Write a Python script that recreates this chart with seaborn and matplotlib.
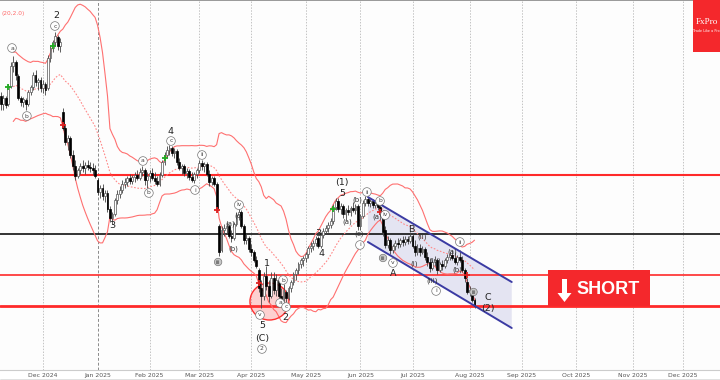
import numpy as np
import pandas as pd
import matplotlib
matplotlib.use("Agg")
import matplotlib.pyplot as plt
from matplotlib.patches import Rectangle, Ellipse, FancyArrow, Polygon
from matplotlib.lines import Line2D
import seaborn as sns

# ---------------- data ----------------
# trading calendar (weekdays, market holidays removed)
calendar = pd.bdate_range("2024-11-01", "2025-12-31").drop(pd.to_datetime(["2025-01-01", "2025-01-20"]))
first_bar = "2024-11-07"

open_ = [284, 276, 282, 276, 294, 314, 318, 304, 282, 278,
         280, 276, 288, 293, 305, 298, 300, 292, 296, 292,
         322, 332, 338, 343, 334, 268, 252, 238, 242, 225,
         214, 204, 210, 214, 212, 215, 213, 212, 210, 200,
         188, 192, 184, 187, 171, 162, 166, 180, 186, 190,
         196, 198, 202, 199, 203, 205, 202, 208, 210, 200,
         204, 207, 202, 199, 196, 205, 218, 225, 230, 232,
         227, 229, 218, 212, 214, 207, 209, 203, 200, 206,
         210, 217, 214, 216, 206, 198, 202, 196, 154, 130,
         150, 152, 154, 144, 142, 156, 165, 168, 154, 140,
         142, 131, 128, 120, 110, 92, 84, 104, 94, 84,
         102, 90, 100, 84, 80, 88, 82, 92, 98, 106,
         110, 116, 120, 122, 126, 132, 134, 137, 142, 134,
         145, 149, 152, 155, 159, 173, 179, 171, 174, 166,
         170, 168, 172, 170, 174, 154, 164, 177, 181, 177,
         179, 175, 177, 173, 168, 150, 135, 140, 130, 134,
         137, 136, 140, 138, 141, 139, 144, 134, 128, 132,
         128, 131, 123, 118, 112, 118, 120, 110, 116, 114,
         120, 123, 125, 122, 118, 123, 120, 110, 98, 88,
         88, 80]
high = [288, 285, 284, 296, 318, 324, 320, 306, 284, 283,
        282, 290, 295, 308, 310, 302, 303, 300, 298, 325,
        335, 340, 348, 345, 342, 272, 255, 245, 244, 230,
        220, 212, 217, 220, 218, 220, 218, 217, 215, 202,
        195, 196, 190, 190, 174, 168, 182, 190, 194, 200,
        202, 204, 206, 205, 208, 210, 212, 214, 212, 208,
        210, 212, 208, 204, 208, 220, 228, 234, 235, 234,
        232, 231, 222, 216, 216, 212, 211, 208, 208, 212,
        220, 220, 218, 218, 210, 204, 204, 198, 156, 154,
        156, 158, 156, 150, 158, 168, 172, 170, 156, 146,
        144, 136, 130, 124, 112, 100, 108, 114, 100, 108,
        108, 106, 102, 92, 96, 90, 94, 100, 108, 112,
        118, 122, 124, 128, 134, 138, 140, 144, 144, 148,
        152, 155, 158, 162, 176, 182, 182, 177, 176, 172,
        175, 174, 178, 176, 176, 166, 180, 184, 183, 181,
        181, 180, 180, 175, 170, 154, 144, 142, 136, 140,
        142, 142, 144, 144, 144, 148, 146, 140, 136, 136,
        134, 133, 128, 122, 120, 124, 122, 118, 120, 122,
        126, 128, 130, 128, 125, 130, 124, 112, 102, 94,
        90, 82]
low = [270, 270, 272, 274, 292, 308, 300, 280, 274, 273,
       270, 274, 285, 290, 294, 290, 288, 287, 285, 290,
       318, 328, 334, 330, 328, 250, 235, 230, 222, 210,
       200, 202, 206, 208, 206, 210, 208, 205, 202, 185,
       182, 180, 178, 168, 158, 156, 164, 176, 182, 187,
       192, 194, 196, 196, 198, 200, 200, 204, 195, 192,
       198, 200, 196, 194, 194, 203, 215, 222, 225, 224,
       222, 215, 210, 206, 204, 202, 200, 198, 197, 202,
       207, 210, 208, 204, 194, 195, 194, 168, 124, 128,
       144, 146, 142, 138, 140, 154, 160, 152, 136, 136,
       128, 124, 118, 112, 88, 72, 80, 90, 78, 82,
       86, 84, 80, 74, 76, 78, 80, 88, 95, 100,
       106, 112, 114, 118, 122, 128, 130, 134, 132, 132,
       142, 146, 148, 152, 156, 170, 168, 166, 162, 160,
       165, 164, 168, 166, 150, 150, 162, 174, 174, 173,
       172, 172, 170, 166, 144, 132, 132, 126, 127, 130,
       132, 133, 134, 135, 136, 137, 132, 124, 125, 124,
       126, 120, 114, 108, 110, 114, 106, 108, 110, 112,
       117, 120, 120, 116, 115, 118, 108, 98, 86, 84,
       78, 72]
close = [276, 282, 275, 294, 314, 318, 305, 282, 278, 281,
         276, 288, 293, 305, 298, 300, 292, 296, 290, 322,
         332, 338, 344, 334, 338, 252, 238, 242, 225, 214,
         204, 210, 214, 212, 215, 213, 212, 210, 204, 188,
         192, 184, 187, 171, 162, 166, 180, 186, 190, 196,
         198, 202, 199, 203, 205, 202, 208, 210, 200, 204,
         207, 202, 199, 196, 205, 218, 225, 230, 232, 227,
         229, 218, 212, 214, 207, 209, 203, 200, 206, 210,
         217, 214, 216, 206, 198, 202, 196, 172, 128, 150,
         152, 154, 144, 142, 156, 165, 168, 154, 140, 142,
         131, 128, 120, 114, 92, 84, 104, 94, 84, 102,
         90, 100, 84, 80, 90, 82, 92, 98, 106, 110,
         116, 120, 122, 126, 132, 134, 137, 141, 134, 145,
         149, 152, 155, 159, 173, 179, 171, 174, 166, 170,
         168, 172, 170, 174, 154, 164, 177, 181, 177, 179,
         175, 177, 173, 168, 148, 135, 140, 130, 134, 137,
         136, 140, 138, 141, 139, 144, 134, 128, 132, 128,
         131, 123, 118, 112, 118, 120, 110, 116, 114, 120,
         123, 125, 122, 118, 123, 120, 110, 102, 88, 90,
         80, 74]

levels = [205, 146, 105, 74]
level_colors = ["#ff2a2a", "#111111", "#ff2a2a", "#ff2a2a"]
level_widths = [1.5, 1.2, 1.2, 2.0]

bb_period, bb_dev = 20, 2.0

# descending channel: anchor bars (calendar index) and prices
channel_bars = [152, 210]
channel_upper = [183, 98]
channel_lower = [138, 52]

# highlighted reversal zone (bar, price, width in bars, height in price)
zone = (112.3, 78.5, 15.7, 37)

# trade signal markers (calendar index, price)
buy_bars, buy_prices = [7, 25, 70, 138], [293, 334, 222, 171]
sell_bars, sell_prices = [29, 91, 108, 157, 192], [255, 170, 97, 168, 105]

# Elliott wave labels (calendar index, price, text)
big_labels = [(26.2, 365, "2"), (72.6, 249, "4"), (48.8, 155, "3"), (111.3, 117, "1"),
              (109.3, 55, "5"), (109.3, 42, "(C)"), (118.6, 62, "2"), (131.9, 147, "3"),
              (133.1, 127, "4"), (141.6, 187, "5"), (141.6, 198, "(1)"), (162.1, 107, "A"),
              (169.4, 151, "B"), (200.5, 83, "C"), (200.5, 72, "(2)")]
circ_labels = [(8.5, 332, "a"), (14.5, 264, "b"), (25.8, 354, "c"), (61.3, 219, "a"),
               (63.7, 187, "b"), (72.6, 239, "c"), (82.3, 190, "i"), (85.1, 225, "ii"),
               (100.0, 175, "iv"), (108.5, 65, "v"), (117.8, 100, "b"), (116.6, 77, "a"),
               (119.0, 73, "c"), (148.8, 135, "i"), (151.6, 188, "ii"), (156.9, 179, "b"),
               (158.9, 165, "iv"), (162.1, 117, "v"), (179.5, 89, "i"), (189.1, 138, "ii"),
               (109.3, 31, "2")]
filled_labels = [(91.6, 118, "iii"), (158.1, 122, "iii"), (194.6, 88, "iii")]
paren_labels = [(96.4, 156, "(a)"), (97.6, 131, "(b)"), (100.0, 164, "(c)"),
                (143.6, 158, "(a)"), (147.6, 180, "(b)"), (148.4, 146, "(c)"),
                (155.7, 163, "(a)"), (173.8, 143, "(ii)"), (170.6, 116, "(i)"),
                (179.0, 119, "(iv)"), (177.9, 99, "(iii)"), (185.9, 128, "(a)"),
                (187.9, 110, "(b)")]

# ---------------- figure ----------------
sns.set_style("white")
plt.rcParams["font.family"] = ["DejaVu Sans"]
fig = plt.figure(figsize=(7.2, 3.8), dpi=100)
AX_H = 370
ax = fig.add_axes([0, (380 - AX_H) / 380, 1, AX_H / 380])
ax.set_facecolor("#fdfdfd")

x0 = calendar.get_loc(pd.Timestamp(first_bar))
df = pd.DataFrame({"x": np.arange(x0, x0 + len(close)), "open": open_, "high": high,
                   "low": low, "close": close})
roll = df["close"].rolling(bb_period, min_periods=6)
df["mid"] = roll.mean()
sd = roll.std(ddof=0)
df["upper"] = df["mid"] + bb_dev * sd
df["lower"] = df["mid"] - bb_dev * sd

# month grid
months = pd.period_range("2024-12", "2025-12", freq="M")
tick_pos, tick_lab = [], []
for m in months:
    idx = np.where((calendar.year == m.year) & (calendar.month == m.month))[0][0]
    tick_pos.append(idx)
    tick_lab.append(m.strftime("%b %Y"))
    if m.month == 1:
        ax.axvline(idx, color="#8a8a8a", lw=0.7, ls=(0, (3, 2)), zorder=0)
    else:
        ax.axvline(idx, color="#c4c4c4", lw=0.7, ls=(0, (1.5, 1.5)), zorder=0)

# channel
cx = np.array(channel_bars)
ax.add_patch(Polygon(np.column_stack([np.r_[cx, cx[::-1]], np.r_[channel_upper, channel_lower[::-1]]]),
                     closed=True, fc="#e4e4f2", ec="none", zorder=1))
sns.lineplot(x=cx, y=channel_upper, ax=ax, color="#3b3ba3", lw=1.4, zorder=6)
sns.lineplot(x=cx, y=channel_lower, ax=ax, color="#3b3ba3", lw=1.4, zorder=6)

# levels
for lv, c, w in zip(levels, level_colors, level_widths):
    ax.axhline(lv, color=c, lw=w, zorder=2)

# Bollinger bands
sns.lineplot(data=df, x="x", y="upper", ax=ax, color="#ff7070", lw=0.8, zorder=2)
sns.lineplot(data=df, x="x", y="lower", ax=ax, color="#ff7070", lw=0.8, zorder=2)
sns.lineplot(data=df, x="x", y="mid", ax=ax, color="#ff8a8a", lw=0.8, ls=(0, (1.5, 1.5)), zorder=2)

# reversal zone
ax.add_patch(Ellipse(zone[:2], zone[2], zone[3], fc=(1, 0.3, 0.3, 0.25), ec="#ff3030", lw=1.0, zorder=3))

# candles
up = df["close"] >= df["open"]
ax.vlines(df["x"], df["low"], df["high"], color="#444444", lw=0.6, zorder=4)
ax.bar(df["x"][up], (df["close"] - df["open"])[up], bottom=df["open"][up], width=0.75,
       color="white", edgecolor="#555555", lw=0.5, zorder=5)
ax.bar(df["x"][~up], (df["open"] - df["close"])[~up], bottom=df["close"][~up], width=0.75,
       color="black", edgecolor="black", lw=0.5, zorder=5)

# signal markers
ax.plot(buy_bars, buy_prices, ls="none", marker="+", ms=4, mew=1.3, color="#22aa22", zorder=7)
ax.plot(sell_bars, sell_prices, ls="none", marker="+", ms=4, mew=1.3, color="#dd2222", zorder=7)

# axes cosmetics (after seaborn calls, which set their own labels)
ax.set_xlim(3.66, 293.98)
ax.set_ylim(380 - AX_H, 380)
ax.set_xlabel("")
ax.set_ylabel("")
ax.set_xticks(tick_pos)
ax.set_xticklabels(tick_lab)
ax.tick_params(axis="x", labelsize=4.4, colors="#555555", length=1.5, pad=0.6, width=0.5)
ax.set_yticks([])
for s in ["left", "right"]:
    ax.spines[s].set_visible(False)
ax.spines["top"].set_color("#888888")
ax.spines["top"].set_linewidth(1.2)
ax.spines["bottom"].set_color("#cccccc")
ax.spines["bottom"].set_linewidth(0.8)
fig.add_artist(Line2D([0, 1], [0.5 / 380, 0.5 / 380], color="#666666", lw=1.0))

# wave labels
for x, y, t in big_labels:
    ax.text(x, y, t, fontsize=6.8, color="#222222", ha="center", va="center", zorder=8)
for x, y, t in circ_labels:
    ax.text(x, y, t, fontsize=4.4, color="#444444", ha="center", va="center", zorder=8,
            bbox=dict(boxstyle="circle,pad=0.3", fc="white", ec="#777777", lw=0.5))
for x, y, t in filled_labels:
    ax.text(x, y, t, fontsize=4.0, color="#333333", ha="center", va="center", zorder=8,
            bbox=dict(boxstyle="circle,pad=0.22", fc="#c8c8c8", ec="#777777", lw=0.5))
for x, y, t in paren_labels:
    ax.text(x, y, t, fontsize=5, color="#333333", ha="center", va="center", zorder=8)

# indicator caption
ax.text(1 / 720, 1 - 13 / AX_H, "(20,2.0)", transform=ax.transAxes, ha="left", va="center",
        fontsize=4.2, color="#ff6a6a")

# SHORT banner
ax.add_patch(Rectangle((548 / 720, 1 - 306 / AX_H), 102 / 720, 36 / AX_H, transform=ax.transAxes,
                       fc="#f4282c", ec="none", zorder=9))
ax.add_patch(FancyArrow(564.5 / 720, 1 - 279 / AX_H, 0, -14 / AX_H, width=5 / 720, head_width=14 / 720,
                        head_length=9 / AX_H, length_includes_head=False, transform=ax.transAxes,
                        fc="white", ec="none", zorder=10))
ax.text(608 / 720, 1 - 289 / AX_H, "SHORT", transform=ax.transAxes, ha="center", va="center",
        fontsize=13, fontweight="bold", family=["Liberation Sans", "DejaVu Sans"], color="white", zorder=10)

# logo
ax.add_patch(Rectangle((693 / 720, 1 - 52 / AX_H), 27 / 720, 52 / AX_H, transform=ax.transAxes,
                       fc="#f4282c", ec="none", zorder=9))
ax.text(706.5 / 720, 1 - 22 / AX_H, "FxPro", transform=ax.transAxes, ha="center", va="center",
        fontsize=6.6, family=["Liberation Serif", "DejaVu Serif"], color="white", zorder=10)
ax.text(706.5 / 720, 1 - 31 / AX_H, "Trade Like a Pro", transform=ax.transAxes, ha="center", va="center",
        fontsize=2.4, color="white", zorder=10)

fig.savefig("out.png", dpi=100)
